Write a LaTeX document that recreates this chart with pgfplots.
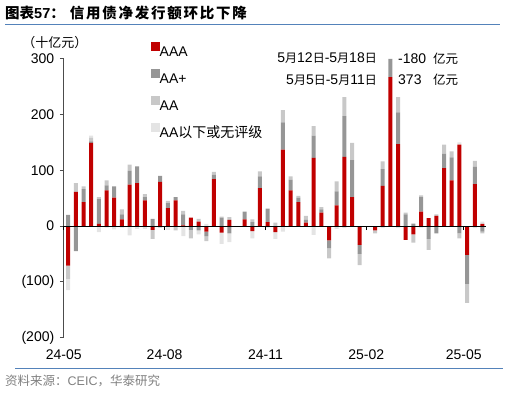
\documentclass[border=0pt]{standalone}
\usepackage{pgfplots}
\usepackage{pgfplotstable}
\pgfplotsset{compat=1.18}
\usepackage{fontspec}
\setmainfont{Liberation Sans}
\newfontfamily\cjk{Noto Sans CJK SC}
\newfontfamily\cjkwide[LetterSpace=12]{Noto Sans CJK SC}
\definecolor{cAAA}{RGB}{192,0,0}
\definecolor{cAAp}{RGB}{150,150,150}
\definecolor{cAA}{RGB}{200,200,200}
\definecolor{cLow}{RGB}{228,228,228}
\definecolor{cBlue}{RGB}{84,130,186}

% weekly net issuance (ten billion yuan); day = days since 2024-05-01
\pgfplotstableread{
day aaa aap aa low
4 -71 20 -24 -20
11 61 -45 16 0
18 43 23 5 0
25 149 3 6 4
32 4 44 4 -11
39 64 9 9 -3
46 51 20 0 -6
53 12 9 9 -3
60 74 25 11 -17
67 77 30 0 -5
74 46 6 5 -5
81 -7 13 -16 0
88 79 11 -3 0
95 32 9 4 -7
102 46 6 -8 0
109 1 20 6 -18
116 15 -7 -15 0
123 8 -8 5 -7
130 -10 -8 -9 4
137 84 8 5 0
144 -12 15 2 -20
151 11 -13 5 -16
158 0 0 0 0
165 12 14 0 0
172 -9 7 5 -13
179 68 21 9 0
186 7 24 0 -3
193 -11 0 6 -12
200 137 49 22 -10
207 64 19 6 0
214 43 8 3 0
221 6 5 7 0
228 122 40 17 -16
235 24 6 4 0
242 -26 -14 -18 0
249 37 25 18 -5
256 124 73 34 -4
263 52 66 31 0
270 -34 -16 -20 0
277 0 0 0 0
284 -8 0 -5 0
291 72 30 14 -4
298 267 33 0 0
305 147 57 27 -4
312 -25 21 3 0
319 -15 4 -15 1
326 26 26 3 -3
333 14 -23 -20 0
340 18 -13 3 0
347 104 26 16 0
354 82 41 11 0
361 146 -13 -9 4
368 -52 -52 -34 0
375 75 31 11 -4
382 4 -10 -3 4
}\bonddata

\pgfplotsset{
  base/.style={
    scale only axis, width=421.9pt, height=278.75pt,
    xmin=0, xmax=385, ymin=-200, ymax=300,
    at={(63.8pt,54.5pt)}, anchor=south west,
    ybar stacked, bar width=4pt,
    xtick={0,92,184,276,365},
    every axis plot/.append style={draw=none},
  }
}

\begin{document}
\begin{tikzpicture}[x=1pt,y=1pt]
\path (0,0) rectangle (509,392);

% title
\node[anchor=west, inner sep=0pt] at (5,378.7)
  {\fontsize{14.5}{17}\selectfont{\cjk\bfseries 图表}\textbf{57}{\cjkwide\bfseries ：\ 信用债净发行额环比下降}};
\draw[cBlue, line width=1pt] (5,367.7) -- (500,367.7);
% source
\draw[cBlue, line width=1pt] (15,24) -- (503,24);
\node[anchor=west, inner sep=0pt, text=black!50] at (5,11)
  {\fontsize{12.5}{15}\selectfont{\cjk 资料来源：}CEIC{\cjk ，华泰研究}};
% unit label
\node[inner sep=0pt] at (55,349) {\fontsize{13}{15}\selectfont\cjk （十亿元）};

% annotations
\node[anchor=east, inner sep=0pt] at (377,333.5)
  {\fontsize{14}{16}\selectfont 5{\cjk\fontsize{12}{14}\selectfont 月}12{\cjk\fontsize{12}{14}\selectfont 日}-5{\cjk\fontsize{12}{14}\selectfont 月}18{\cjk\fontsize{12}{14}\selectfont 日}};
\node[anchor=west, inner sep=0pt] at (398,333.5) {\fontsize{14}{16}\selectfont -180};
\node[anchor=west, inner sep=0pt] at (433,333.5) {\fontsize{12.5}{14}\selectfont\cjk 亿元};
\node[anchor=east, inner sep=0pt] at (377,312)
  {\fontsize{14}{16}\selectfont 5{\cjk\fontsize{12}{14}\selectfont 月}5{\cjk\fontsize{12}{14}\selectfont 日}-5{\cjk\fontsize{12}{14}\selectfont 月}11{\cjk\fontsize{12}{14}\selectfont 日}};
\node[anchor=west, inner sep=0pt] at (398,312) {\fontsize{14}{16}\selectfont 373};
\node[anchor=west, inner sep=0pt] at (433,312) {\fontsize{12.5}{14}\selectfont\cjk 亿元};

% positive parts, y axis, x labels, legend
\begin{axis}[base,
  axis x line*=bottom, axis y line*=left,
  x axis line style={draw=none}, xtick style={draw=none},
  y axis line style={-, draw=black!70, line width=0.8pt},
  ytick={-200,-100,0,100,200,300},
  yticklabels={(200),(100),0,100,200,300},
  ytick style={draw=black!70, line width=0.8pt},
  tick align=outside, major tick length=4pt,
  xticklabels={24-05,24-08,24-11,25-02,25-05},
  tick label style={font=\fontsize{14}{16}\selectfont},
  xticklabel style={yshift=-5pt},
  yticklabel style={xshift=-2pt},
  legend style={at={(0.2055,1.0615)}, anchor=north west, draw=none, fill=none,
    font=\fontsize{14}{16}\selectfont, inner sep=0pt, row sep=12.7pt,
    nodes={inner sep=0pt, text height=10pt, text depth=0pt}},
  legend cell align=left,
  legend image code/.code={\fill[#1] (0pt,0.5pt) rectangle (9pt,9.5pt);},
]
\addplot[fill=cAAA] table[x=day, y expr={max(\thisrow{aaa},0)}] {\bonddata};
\addplot[fill=cAAp] table[x=day, y expr={max(\thisrow{aap},0)}] {\bonddata};
\addplot[fill=cAA] table[x=day, y expr={max(\thisrow{aa},0)}] {\bonddata};
\addplot[fill=cLow] table[x=day, y expr={max(\thisrow{low},0)}] {\bonddata};
\legend{AAA,AA+,AA,AA{\cjk 以下或无评级}}
\end{axis}

% negative parts and zero line
\begin{axis}[base,
  axis x line=middle, axis y line=none, axis on top,
  x axis line style={-, draw=black, line width=1pt},
  xticklabels={}, tick align=outside, major tick length=4pt,
  xtick style={draw=black, line width=0.8pt},
]
\addplot[fill=cAAA] table[x=day, y expr={min(\thisrow{aaa},0)}] {\bonddata};
\addplot[fill=cAAp] table[x=day, y expr={min(\thisrow{aap},0)}] {\bonddata};
\addplot[fill=cAA] table[x=day, y expr={min(\thisrow{aa},0)}] {\bonddata};
\addplot[fill=cLow] table[x=day, y expr={min(\thisrow{low},0)}] {\bonddata};
\end{axis}
\end{tikzpicture}
\end{document}
